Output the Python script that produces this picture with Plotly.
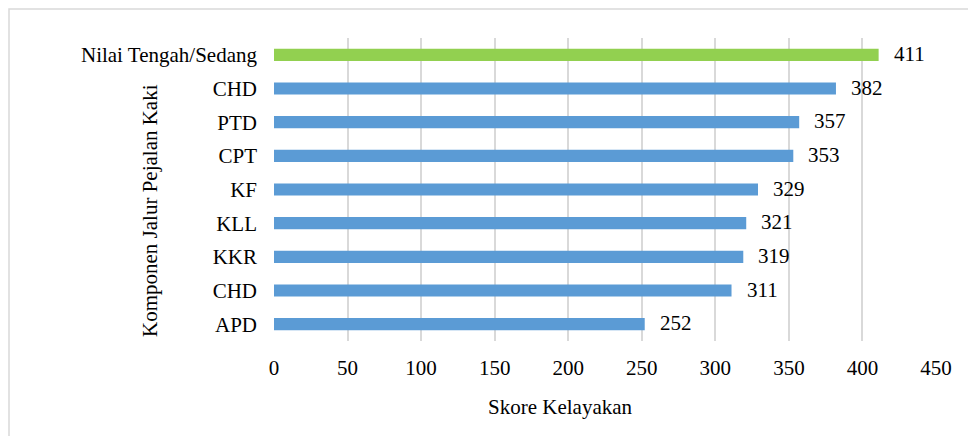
import plotly.graph_objects as go

# Feasibility scores for the pedestrian path components (bottom to top)
categories = ["APD", "CHD", "KKR", "KLL", "KF", "CPT", "PTD", "CHD", "Nilai Tengah/Sedang"]
scores = [252, 311, 319, 321, 329, 353, 357, 382, 411]
bar_colors = ["#5B9BD5"] * 8 + ["#92D050"]
x_ticks = [0, 50, 100, 150, 200, 250, 300, 350, 400, 450]

FONT = "'Liberation Serif', 'Times New Roman', Times, serif"
FS = 21
positions = list(range(len(categories)))

W, H = 968, 436
L, R, T, B = 274, 32, 38, 95
pw, ph = W - L - R, H - T - B

fig = go.Figure(
    go.Bar(
        x=scores,
        y=positions,
        orientation="h",
        marker=dict(color=bar_colors, line=dict(width=0)),
        width=0.36,
        hoverinfo="x+text",
        text=categories,
        textposition="none",
    )
)

# Value labels to the right of each bar
for pos, val in zip(positions, scores):
    fig.add_annotation(
        x=val, y=pos, text=str(val), showarrow=False,
        xanchor="left", yanchor="middle", xshift=13, yshift=1,
        font=dict(family=FONT, size=FS, color="#000000"),
    )

# Axis titles
fig.add_annotation(
    xref="paper", yref="paper", x=(560 - L) / pw, y=-(407 - (H - B)) / ph,
    text="Skore Kelayakan", showarrow=False, xanchor="center", yanchor="middle",
    font=dict(family=FONT, size=FS, color="#000000"),
)
fig.add_annotation(
    xref="paper", yref="paper", x=(150 - L) / pw, y=((H - B) - 211) / ph,
    text="Komponen Jalur Pejalan Kaki", showarrow=False, textangle=-90,
    xanchor="center", yanchor="middle",
    font=dict(family=FONT, size=FS, color="#000000"),
)

# Light outer frame around the chart
fig.add_shape(
    type="rect", xref="paper", yref="paper",
    x0=(9 - L) / pw, x1=(W + 20 - L) / pw,
    y0=-(H + 20 - (H - B)) / ph, y1=(H - B - 9) / ph,
    line=dict(color="#D9D9D9", width=1.5), fillcolor="rgba(0,0,0,0)", layer="below",
)

fig.update_layout(
    width=W, height=H,
    margin=dict(l=L, r=R, t=T, b=B),
    paper_bgcolor="#FFFFFF", plot_bgcolor="#FFFFFF",
    font=dict(family=FONT, size=FS, color="#000000"),
    showlegend=False,
    xaxis=dict(
        range=[0, 450], tickvals=x_ticks, ticktext=[str(t) for t in x_ticks],
        showgrid=True, gridcolor="#D9D9D9", gridwidth=1.5,
        zeroline=False, showline=False, ticks="",
        tickfont=dict(family=FONT, size=FS), ticklabelstandoff=12,
        fixedrange=True,
    ),
    yaxis=dict(
        range=[-0.5, 8.5], tickvals=positions, ticktext=categories,
        showgrid=False, zeroline=False, showline=False, ticks="",
        tickfont=dict(family=FONT, size=FS), ticklabelstandoff=16,
        fixedrange=True,
    ),
)

fig.write_html("out.html")
